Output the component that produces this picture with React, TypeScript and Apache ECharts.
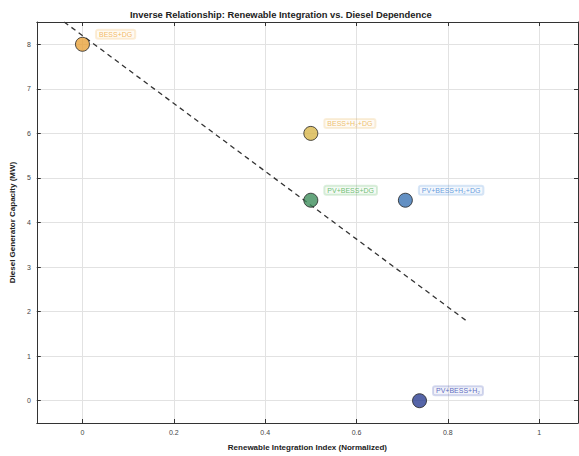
import React, { useEffect, useRef } from "react";
import * as echarts from "echarts";

const scenarioNames = ["BESS+DG", "BESS+H₂+DG", "PV+BESS+DG", "PV+BESS+H₂+DG", "PV+BESS+H₂"];
const integrationIndex = [0, 0.5, 0.5, 0.707, 0.738];
const dieselCapacity = [8, 6, 4.5, 4.5, 0];
const markerColors = ["#E9A23B", "#D8B64C", "#3E8E5C", "#3C74B4", "#2C3E92"];
const labelColors = ["#F0A83C", "#E8B04A", "#4CAF50", "#3F86D6", "#3346B0"];
const trendX = [-0.04, 0.84];
const trendY = [8.5, 1.8];

const FONT = "Liberation Sans, Arial, sans-serif";

export default function App() {
  const ref = useRef<HTMLDivElement>(null);
  useEffect(() => {
    if (!ref.current) return;
    const chart = echarts.init(ref.current, null, { renderer: "svg" });
    const pts = scenarioNames.map((n, i) => ({
      name: n,
      value: [integrationIndex[i], dieselCapacity[i]],
      itemStyle: { color: markerColors[i], borderColor: "#222", borderWidth: 1 },
      label: {
        show: true,
        formatter: n,
        position: "right",
        offset: [1, -10],
        color: labelColors[i],
        fontSize: 7,
        fontFamily: FONT,
        backgroundColor: labelColors[i] + "14",
        borderColor: labelColors[i] + "40",
        borderWidth: 1,
        borderRadius: 2,
        padding: [1, 3],
      },
    }));
    const axisCommon = {
      min: -0.1,
      max: 1.085,
      splitNumber: 6,
      axisLine: { show: true, onZero: false, lineStyle: { color: "#333", width: 1 } },
      axisTick: { show: true, inside: true, length: 4, lineStyle: { color: "#333" } },
    };
    const yCommon = {
      min: -0.5,
      max: 8.5,
      splitNumber: 9,
      axisLine: { show: true, onZero: false, lineStyle: { color: "#333", width: 1 } },
      axisTick: { show: true, inside: true, length: 4, lineStyle: { color: "#333" } },
    };
    chart.setOption({
      animation: false,
      backgroundColor: "#fff",
      title: {
        text: "Inverse Relationship: Renewable Integration vs. Diesel Dependence",
        left: 125,
        top: 5,
        textStyle: { fontSize: 9.4, fontWeight: "bold", color: "#222", fontFamily: FONT },
      },
      grid: { left: 33, right: 1, top: 22, bottom: 33, containLabel: false },
      xAxis: [
        {
          type: "value",
          ...axisCommon,
          position: "bottom",
          name: "Renewable Integration Index (Normalized)",
          nameLocation: "middle",
          nameGap: 20,
          nameTextStyle: { fontSize: 8, fontWeight: "bold", color: "#222", fontFamily: FONT },
          axisLabel: { fontSize: 7, color: "#444", fontFamily: FONT, margin: 6, showMinLabel: false, showMaxLabel: false },
          splitLine: { show: true, lineStyle: { color: "#e2e2e2", width: 1 } },
        },
        {
          type: "value",
          ...axisCommon,
          position: "top",
          axisLabel: { show: false },
          splitLine: { show: false },
        },
      ],
      yAxis: [
        {
          type: "value",
          ...yCommon,
          position: "left",
          name: "Diesel Generator Capacity (MW)",
          nameLocation: "middle",
          nameGap: 20,
          nameTextStyle: { fontSize: 8, fontWeight: "bold", color: "#222", fontFamily: FONT },
          axisLabel: { fontSize: 7, color: "#444", fontFamily: FONT, margin: 6, showMinLabel: false, showMaxLabel: false },
          splitLine: { show: true, lineStyle: { color: "#e2e2e2", width: 1 } },
        },
        {
          type: "value",
          ...yCommon,
          position: "right",
          axisLabel: { show: false },
          splitLine: { show: false },
        },
      ],
      series: [
        {
          type: "line",
          data: trendX.map((x, i) => [x, trendY[i]]),
          symbol: "none",
          lineStyle: { color: "#333", width: 1.3, type: [5, 4] },
          clip: true,
          z: 1,
        },
        {
          type: "scatter",
          data: pts,
          symbolSize: 14,
          z: 3,
        },
      ],
    });
    return () => chart.dispose();
  }, []);
  return <div ref={ref} style={{ position: "fixed", left: 0, top: 0, width: 579, height: 456 }} />;
}
